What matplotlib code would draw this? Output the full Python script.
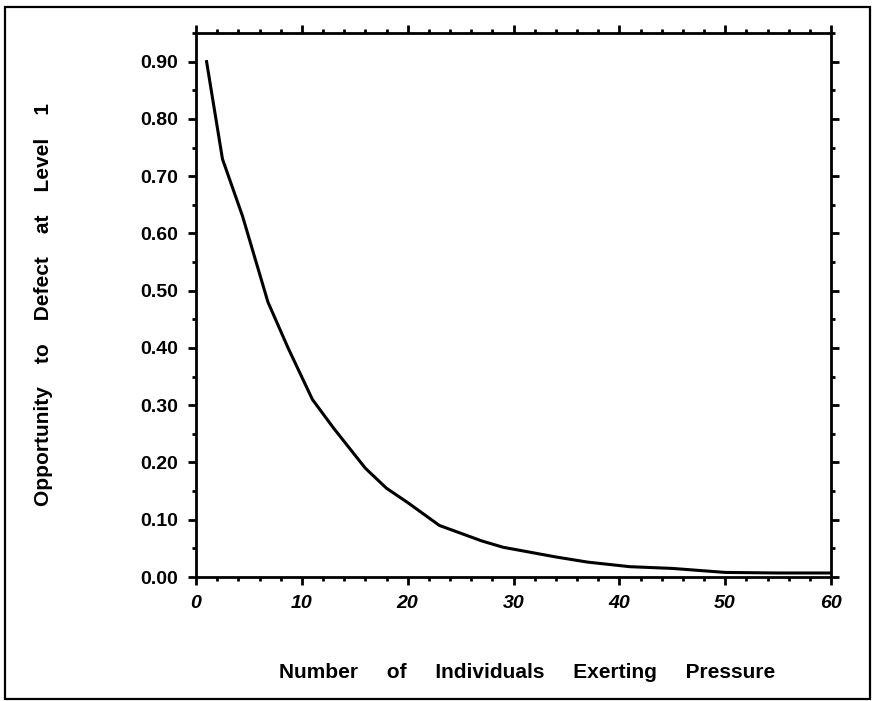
import numpy as np
import matplotlib.pyplot as plt
from matplotlib.patches import Rectangle

# values
n_people = [1, 2.5, 4.4, 6.8, 8.7, 11, 13, 16, 18, 20, 23, 27, 29, 34, 37, 41, 45, 50, 55, 60]
opportunity = [0.90, 0.73, 0.63, 0.48, 0.40, 0.31, 0.26, 0.19, 0.155, 0.13, 0.09, 0.063, 0.052,
               0.035, 0.026, 0.018, 0.015, 0.008, 0.007, 0.007]

x_ticks = [0, 10, 20, 30, 40, 50, 60]
y_ticks = [0.0, 0.1, 0.2, 0.3, 0.4, 0.5, 0.6, 0.7, 0.8, 0.9]

plt.rcParams['font.family'] = ['Liberation Sans', 'DejaVu Sans']

fig = plt.figure(figsize=(8.72, 7.01), dpi=100)
ax = fig.add_axes([196 / 872, 1 - 577 / 701, (831 - 196) / 872, (577 - 33) / 701])

ax.plot(n_people, opportunity, color='black', linewidth=2.2)

ax.set_xlim(0, 60)
ax.set_ylim(0, 0.95)
ax.set_xticks(x_ticks)
ax.set_xticks(np.arange(0, 61, 2), minor=True)
ax.set_yticks(y_ticks)
ax.set_yticks(np.arange(0, 0.951, 0.05), minor=True)
ax.set_yticklabels([f'{v:.2f}' for v in y_ticks], fontsize=14, fontweight='bold')
ax.set_xticklabels([str(v) for v in x_ticks], fontsize=14, fontweight='bold', style='italic')

ax.tick_params(which='both', direction='out', top=True, right=True, width=2, color='black')
ax.tick_params(which='major', length=6, pad=7)
ax.tick_params(which='minor', length=3)
for s in ax.spines.values():
    s.set_linewidth(2)

fig.text(527 / 872, 1 - 672 / 701, 'Number     of     Individuals     Exerting     Pressure',
         ha='center', va='center', fontsize=15, fontweight='bold')
fig.text(44 / 872, 1 - 305 / 701, 'Opportunity    to    Defect    at    Level    1',
         ha='center', va='center', rotation=90, fontsize=15, fontweight='bold')

# outer frame round the whole figure
fig.patches.append(Rectangle((5 / 872, 2 / 701), 865 / 872, 692 / 701, transform=fig.transFigure,
                             fill=False, edgecolor='black', linewidth=1.6))

fig.savefig('out.png', dpi=100)
